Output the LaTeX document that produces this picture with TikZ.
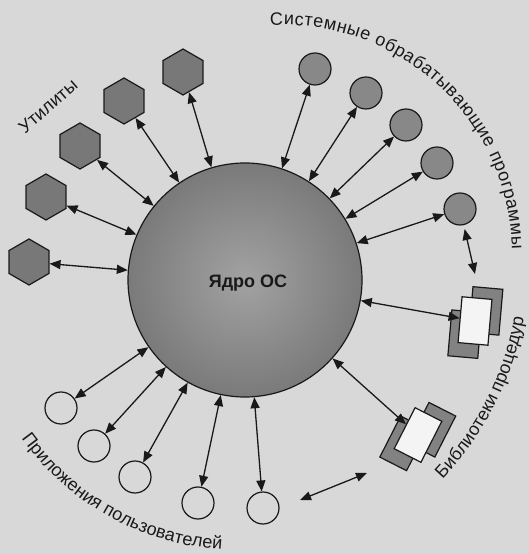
\documentclass[tikz,border=0pt]{standalone}
\usepackage{fontspec}
\setmainfont{Liberation Sans}
\usetikzlibrary{shapes.geometric,arrows.meta,decorations.text}
\definecolor{bg}{RGB}{216,216,216}
\definecolor{coreA}{RGB}{162,162,162}
\definecolor{coreB}{RGB}{122,122,122}
\definecolor{hexc}{RGB}{120,120,120}
\definecolor{sysc}{RGB}{136,136,136}
\definecolor{libg}{RGB}{130,130,130}
\definecolor{libw}{RGB}{244,244,244}
\definecolor{ink}{RGB}{25,25,25}
\newcommand\lblfont{\fontsize{18}{21}\selectfont}
\begin{document}
\begin{tikzpicture}[x=1pt,y=1pt,
  corenode/.style={circle, minimum size=234pt, inner sep=0pt, draw=ink, line width=1.2pt, inner color=coreA, outer color=coreB},
  hexnode/.style={regular polygon, regular polygon sides=6, rotate=30, minimum size=46pt, inner sep=0pt, draw=ink, line width=1.2pt, fill=hexc},
  sysnode/.style={circle, minimum size=32pt, inner sep=0pt, draw=ink, line width=1.2pt, fill=sysc},
  appnode/.style={circle, minimum size=32pt, inner sep=0pt, draw=ink, line width=1.2pt, fill=bg},
  libback/.style={rectangle, minimum width=30pt, minimum height=46pt, inner sep=0pt, draw=ink, line width=1.2pt, fill=libg},
  libfront/.style={libback, fill=libw},
  conn/.style={{Triangle[length=11pt,width=9pt]}-{Triangle[length=11pt,width=9pt]}, line width=1.3pt, draw=ink},
  lbl/.style={font=\lblfont, text=ink}
]
\useasboundingbox (0,0) rectangle (529,554);
\fill[bg] (0,0) rectangle (529,554);

% core
\node[corenode] (core) at (245,274) {};
\node[font=\bfseries\fontsize{18}{21}\selectfont, text=ink] (coretxt) at (248,271) {Ядро ОС};

% utilities
\node[hexnode] (h1) at (183,482) {};
\node[hexnode] (h2) at (124,453) {};
\node[hexnode] (h3) at (80,408) {};
\node[hexnode] (h4) at (46,357) {};
\node[hexnode] (h5) at (29,292) {};

% system programs
\node[sysnode] (s1) at (315,485) {};
\node[sysnode] (s2) at (366,461) {};
\node[sysnode] (s3) at (406,429) {};
\node[sysnode] (s4) at (437,391) {};
\node[sysnode] (s5) at (460,345) {};

% user applications
\node[appnode] (u1) at (61,146) {};
\node[appnode] (u2) at (94,108) {};
\node[appnode] (u3) at (135,77) {};
\node[appnode] (u4) at (198,51) {};
\node[appnode] (u5) at (263,46) {};

% libraries
\begin{scope}[shift={(475,233)}, rotate=-5, transform shape]
  \node[libback] (lib1a) at (10,11) {};
  \node[libback] (lib1b) at (-9,-14) {};
  \node[libfront] (lib1) at (0,0) {};
\end{scope}
\begin{scope}[shift={(418,119)}, rotate=-27, transform shape]
  \node[libback] (lib2a) at (10,11) {};
  \node[libback] (lib2b) at (-9,-14) {};
  \node[libfront] (lib2) at (0,0) {};
\end{scope}

% free ends
\coordinate (s5end) at (475,280);
\coordinate (freeA) at (300,54);
\coordinate (freeB) at (367,81);

% connectors
\foreach \n in {h1,h2,h3,h4,h5,s1,s2,s3,s4,s5,u1,u2,u3,u4,u5}
  \draw[conn] (\n) -- (core);
\draw[conn] (core) -- (lib1);
\draw[conn] (core) -- (lib2);
\draw[conn, shorten <=4pt] (s5) -- (s5end);
\draw[conn] (freeA) -- (freeB);

% labels
\node[lbl, rotate=41] (lutil) at (48,448) {Утилиты};
\path[decorate, decoration={text along path, text align={fit to path},
  text={|\color{ink}\lblfont|Системные обрабатывающие программы}}]
  ([shift={(93.2:229)}]283,300) arc[start angle=93.2, end angle=1.2, radius=229];
\path[decorate, decoration={text along path, text align=center,
  text={|\color{ink}\lblfont|Библиотеки процедур}}]
  ([shift={(-43.5:316)}]213,292) arc[start angle=-43.5, end angle=-10, radius=316];
\path[decorate, decoration={text along path, text align=center,
  text={|\color{ink}\lblfont|Приложения пользователей}}]
  ([shift={(214:266)}]238,270) arc[start angle=214, end angle=268, radius=266];
\end{tikzpicture}
\end{document}
